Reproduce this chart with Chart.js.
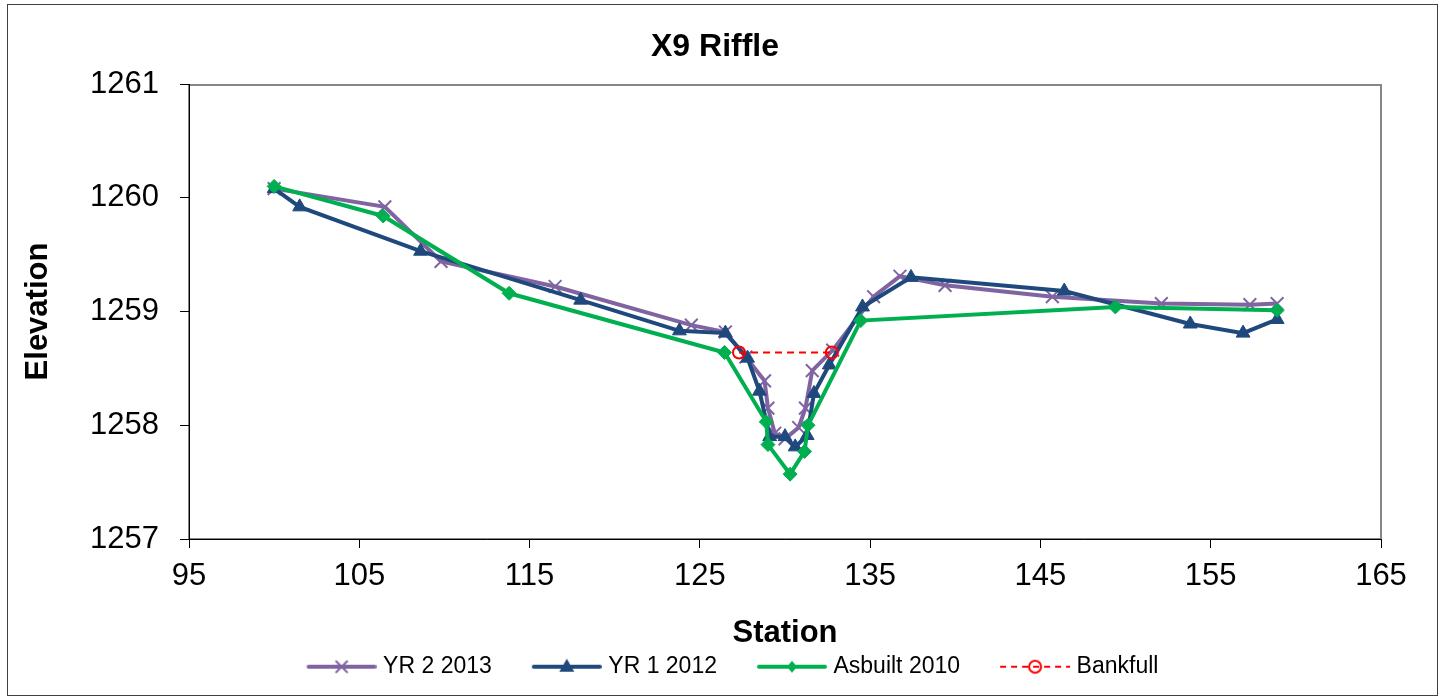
<!DOCTYPE html>
<html>
<head>
<meta charset="utf-8">
<title>X9 Riffle</title>
<script src="https://cdn.jsdelivr.net/npm/chart.js@4.4.1/dist/chart.umd.min.js"></script>
<style>
  html, body { margin: 0; padding: 0; background: #ffffff; overflow: hidden; }
  #c { display: block; }
</style>
</head>
<body>
<canvas id="c" width="1447" height="699"></canvas>
<script>
// ---------------- Data ----------------
const chartTitle = 'X9 Riffle';
const xAxisTitle = 'Station';
const yAxisTitle = 'Elevation';
const seriesNames = ['YR 2 2013', 'YR 1 2012', 'Asbuilt 2010', 'Bankfull'];

const xMin = 95, xMax = 165, xStep = 10;
const yMin = 1257, yMax = 1261, yStep = 1;

const yr2Station = [100.0, 106.5, 109.8, 116.5, 124.5, 126.5, 127.7, 128.8, 129.0, 129.4, 130.0, 130.8, 131.2, 131.6, 132.8, 135.2, 136.75, 139.4, 145.7, 152.1, 157.3, 158.9];
const yr2Elev    = [1260.08, 1259.92, 1259.44, 1259.22, 1258.88, 1258.82, 1258.60, 1258.39, 1258.15, 1257.93, 1257.88, 1257.98, 1258.15, 1258.48, 1258.66, 1259.13, 1259.31, 1259.23, 1259.13, 1259.07, 1259.06, 1259.07];

const yr1Station = [100.0, 101.5, 108.6, 118.0, 123.8, 126.5, 127.8, 128.5, 129.1, 130.0, 130.6, 131.3, 131.7, 132.6, 134.55, 137.4, 146.4, 153.8, 156.9, 158.9];
const yr1Elev    = [1260.08, 1259.92, 1259.53, 1259.10, 1258.83, 1258.81, 1258.59, 1258.30, 1257.90, 1257.90, 1257.81, 1257.91, 1258.28, 1258.53, 1259.04, 1259.30, 1259.18, 1258.89, 1258.81, 1258.93];

const asbStation = [100.0, 106.4, 113.8, 126.45, 128.9, 129.0, 130.3, 131.15, 131.35, 134.45, 149.4, 158.9];
const asbElev    = [1260.10, 1259.84, 1259.16, 1258.64, 1258.03, 1257.83, 1257.57, 1257.77, 1258.00, 1258.92, 1259.04, 1259.01];

const bankStation = [127.3, 132.75];
const bankElev    = [1258.64, 1258.64];

// ---------------- Styles ----------------
const purple = '#8064A2';
const navy   = '#1F497D';
const green  = '#00B050';
const red    = '#FF0000';
const FONT = "'Liberation Sans', Arial, Helvetica, sans-serif";

function pts(xs, ys) { return xs.map((x, i) => ({ x: x, y: ys[i] })); }

// Legend swatches (line + marker), drawn on small canvases
function makeSwatch(kind) {
  const c = document.createElement('canvas');
  c.width = 110; c.height = 24;
  const g = c.getContext('2d');
  const y = 12, x0 = 40, x1 = 110, cx = 75;
  g.lineCap = 'round';
  if (kind === 'bank') {
    g.strokeStyle = red; g.lineWidth = 2; g.lineCap = 'butt';
    g.setLineDash([6, 5]);
    g.beginPath(); g.moveTo(x0, y); g.lineTo(x1, y); g.stroke();
    g.setLineDash([]);
    g.beginPath(); g.arc(cx, y, 6, 0, Math.PI * 2); g.stroke();
    return c;
  }
  const col = kind === 'yr2' ? purple : (kind === 'yr1' ? navy : green);
  g.strokeStyle = col; g.lineWidth = 4;
  g.beginPath(); g.moveTo(x0 + 2, y); g.lineTo(x1 - 2, y); g.stroke();
  g.fillStyle = col;
  if (kind === 'yr2') {
    g.lineWidth = 2; g.lineCap = 'butt';
    g.beginPath();
    g.moveTo(cx - 6, y - 6); g.lineTo(cx + 6, y + 6);
    g.moveTo(cx + 6, y - 6); g.lineTo(cx - 6, y + 6);
    g.stroke();
  } else if (kind === 'yr1') {
    g.beginPath();
    g.moveTo(cx, y - 8); g.lineTo(cx + 7.5, y + 5); g.lineTo(cx - 7.5, y + 5); g.closePath();
    g.fill();
  } else {
    g.beginPath();
    g.moveTo(cx, y - 6); g.lineTo(cx + 5, y); g.lineTo(cx, y + 6); g.lineTo(cx - 5, y); g.closePath();
    g.fill();
  }
  return c;
}
const swatches = [makeSwatch('yr2'), makeSwatch('yr1'), makeSwatch('asb'), makeSwatch('bank')];

// Frame plugin: plot-area border + outer chart border
const framePlugin = {
  id: 'frame',
  beforeDraw(chart) {
    const { ctx, chartArea: a } = chart;
    ctx.save();
    ctx.strokeStyle = '#878787';
    ctx.lineWidth = 2;
    ctx.strokeRect(a.left, a.top + 1, a.right - a.left, a.bottom - a.top - 1);
    ctx.restore();
  },
  afterDraw(chart) {
    const ctx = chart.ctx;
    ctx.save();
    ctx.strokeStyle = '#404040';
    ctx.lineWidth = 1;
    ctx.strokeRect(7.5, 4.5, 1430, 691);
    ctx.restore();
  }
};

Chart.defaults.font.family = FONT;
Chart.defaults.color = '#000000';

new Chart(document.getElementById('c'), {
  type: 'line',
  data: {
    datasets: [
      {
        label: seriesNames[0], data: pts(yr2Station, yr2Elev), order: 3,
        borderColor: purple, backgroundColor: purple, borderWidth: 4,
        pointStyle: 'crossRot', pointRadius: 9, pointBorderWidth: 2,
        pointBorderColor: purple, tension: 0, fill: false
      },
      {
        label: seriesNames[1], data: pts(yr1Station, yr1Elev), order: 2,
        borderColor: navy, backgroundColor: navy, borderWidth: 4,
        pointStyle: 'triangle', pointRadius: 8, pointBorderWidth: 1,
        pointBackgroundColor: navy, pointBorderColor: navy, tension: 0, fill: false
      },
      {
        label: seriesNames[2], data: pts(asbStation, asbElev), order: 1,
        borderColor: green, backgroundColor: green, borderWidth: 4,
        pointStyle: 'rectRot', pointRadius: 7, pointBorderWidth: 1,
        pointBackgroundColor: green, pointBorderColor: green, tension: 0, fill: false
      },
      {
        label: seriesNames[3], data: pts(bankStation, bankElev), order: 0,
        borderColor: red, backgroundColor: 'rgba(0,0,0,0)', borderWidth: 2,
        borderDash: [7, 5],
        pointStyle: 'circle', pointRadius: 6, pointBorderWidth: 2,
        pointBackgroundColor: 'rgba(0,0,0,0)', pointBorderColor: red, tension: 0, fill: false
      }
    ]
  },
  options: {
    responsive: false,
    animation: false,
    devicePixelRatio: 1,
    layout: { padding: { left: 8, right: 25, top: 5, bottom: 10.8 } },
    scales: {
      x: {
        type: 'linear', position: 'bottom',
        min: xMin, max: xMax,
        ticks: { stepSize: xStep, padding: 10, font: { size: 31 }, color: '#000',
                 callback: v => String(v) },
        grid: { drawOnChartArea: false, drawTicks: true, tickLength: 9, color: '#000', lineWidth: 1 },
        border: { display: true, color: '#000', width: 1 },
        title: { display: true, text: xAxisTitle, color: '#000',
                 font: { size: 31, weight: 'bold', lineHeight: 1 },
                 padding: { top: 0, bottom: 1.7 } },
        afterFit: s => { s.height = 111.2; }
      },
      y: {
        type: 'linear', position: 'left',
        min: yMin, max: yMax,
        ticks: { stepSize: yStep, padding: 21, font: { size: 31 }, color: '#000',
                 callback: v => String(v) },
        grid: { drawOnChartArea: false, drawTicks: true, tickLength: 9, color: '#000', lineWidth: 1 },
        border: { display: true, color: '#000', width: 1 },
        title: { display: true, text: yAxisTitle, color: '#000',
                 font: { size: 31, weight: 'bold', lineHeight: 1 },
                 padding: { top: 14.5, bottom: 0 } },
        afterFit: s => { s.width = 181; }
      },
      yR: {
        type: 'linear', position: 'right', display: true,
        ticks: { display: false },
        grid: { display: false, drawTicks: false },
        border: { display: false },
        afterFit: s => { s.width = 41; }
      }
    },
    plugins: {
      title: {
        display: true, text: chartTitle, color: '#000',
        font: { size: 32, weight: 'bold', lineHeight: 1.2 },
        padding: { top: 22.5, bottom: 18.1 }
      },
      legend: {
        display: true, position: 'bottom',
        labels: {
          usePointStyle: true, pointStyleWidth: 100, padding: 5,
          font: { size: 23 }, color: '#000',
          generateLabels: (chart) => chart.data.datasets.map((ds, i) => ({
            text: ds.label, pointStyle: swatches[i], fillStyle: 'rgba(0,0,0,0)',
            strokeStyle: 'rgba(0,0,0,0)', lineWidth: 0, hidden: false,
            datasetIndex: i, fontColor: '#000'
          }))
        }
      },
      tooltip: { enabled: false }
    }
  },
  plugins: [framePlugin]
});
</script>
</body>
</html>
